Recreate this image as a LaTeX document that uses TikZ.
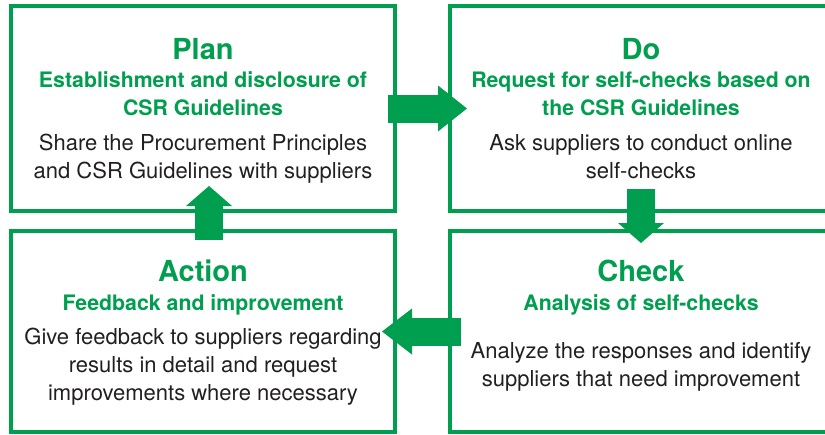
\documentclass[tikz,border=0pt]{standalone}
\usepackage{fontspec}
\setmainfont{TeX Gyre Heros}
\usepackage{tikz}
\usetikzlibrary{arrows.meta}
\definecolor{pdcagreen}{RGB}{0,158,79}
\definecolor{bodygray}{RGB}{35,31,32}
\tikzset{
    stage/.style={draw=pdcagreen, line width=4pt, rectangle, inner sep=0pt},
    stagetitle/.style={anchor=base, inner sep=0pt, text=pdcagreen,
        font=\fontsize{29}{34}\selectfont\bfseries},
    stagegoal/.style={anchor=base, inner sep=0pt, align=center, text=pdcagreen,
        font=\fontsize{21.3}{28}\selectfont\bfseries},
    stagetext/.style={anchor=base, inner sep=0pt, align=center, text=bodygray,
        font=\fontsize{22}{28.2}\selectfont},
    pdcaarrow/.style={draw=pdcagreen, line width=28pt,
        -{Triangle[length=#1, width=46pt, line width=0pt]}},
}

\begin{document}
\begin{tikzpicture}[x=1pt, y=-1pt]
        \useasboundingbox (0,0) rectangle (825,434);
        % the four stages
        \node[stage, minimum width=384pt, minimum height=205pt] (plan) at (203,108.5) {};
        \node[stage, minimum width=382pt, minimum height=205pt] (do) at (641,108.5) {};
        \node[stage, minimum width=384pt, minimum height=201pt] (action) at (203,331.5) {};
        \node[stage, minimum width=382pt, minimum height=201pt] (check) at (641,331.5) {};

        % texts, placed at the baseline of their last line
        \node[stagetitle] (plantitle) at (203,59.3) {Plan};
        \node[stagegoal] (plangoal) at (203,115.3) {Establishment and disclosure of\\CSR Guidelines};
        \node[stagetext] (plantext) at (203,178.5) {Share the Procurement Principles\\and CSR Guidelines with suppliers};

        \node[stagetitle] (dotitle) at (641,59.3) {Do};
        \node[stagegoal] (dogoal) at (641,115.3) {Request for self-checks based on\\the CSR Guidelines};
        \node[stagetext] (dotext) at (641,178.5) {Ask suppliers to conduct online\\self-checks};

        \node[stagetitle] (checktitle) at (641,281.7) {Check};
        \node[stagegoal] (checkgoal) at (641,310) {Analysis of self-checks};
        \node[stagetext] (checktext) at (641,386.5) {Analyze the responses and identify\\suppliers that need improvement};

        \node[stagetitle] (actiontitle) at (203,281.7) {Action};
        \node[stagegoal] (actiongoal) at (203,310) {Feedback and improvement};
        \node[stagetext] (actiontext) at (203,400.5) {Give feedback to suppliers regarding\\results in detail and request\\improvements where necessary};

        % the cycle
        \draw[pdcaarrow=29pt] ([xshift=-9pt]plan.east) -- ([xshift=19pt]do.west);
        \draw[pdcaarrow=20pt] ([yshift=24pt]do.south) -- ([yshift=-14pt]check.north);
        \draw[pdcaarrow=30pt] ([xshift=13pt]check.west) -- ([xshift=-15pt]action.east);
        \draw[pdcaarrow=20pt] ([xshift=6pt,yshift=-11pt]action.north) -- ([xshift=6pt,yshift=27pt]plan.south);
\end{tikzpicture}
\end{document}
